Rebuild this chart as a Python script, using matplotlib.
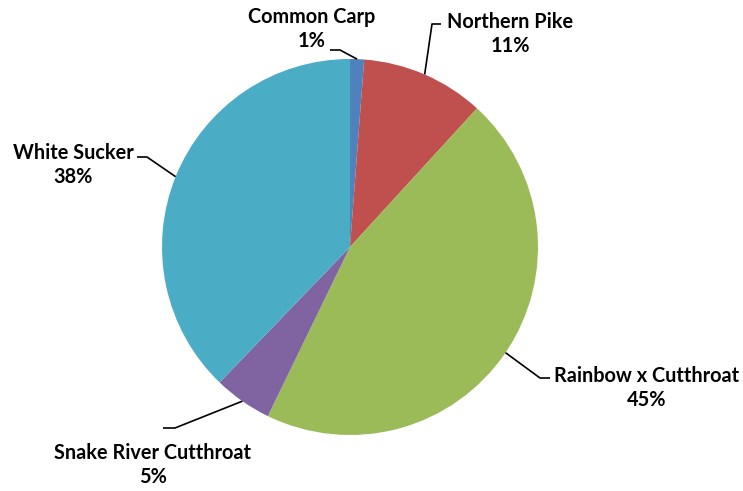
import numpy as np
import matplotlib
matplotlib.use("Agg")
import matplotlib.pyplot as plt

# data
species = ["Common Carp", "Northern Pike", "Rainbow x Cutthroat",
           "Snake River Cutthroat", "White Sucker"]
shares = [1.2, 10.6, 45.4, 5.0, 37.8]
colors = ["#4F81BD", "#C0504D", "#9BBB59", "#8064A2", "#4BACC6"]

# label layout (pixel offsets from pie centre, y up)
text_pos = [(-38, 218), (160, 213), (297, -141), (-197, -218), (-277, 82)]
elbow_pos = [(-10, 197), (82, 223), (190, -131), (-175, -181), (-203, 90)]
end_pos = [(-20, 197), (91, 223), (200, -131), (-187, -181), (-213, 90)]

W, H = 743, 491
CX, CY, R = 350, 247, 188

fig = plt.figure(figsize=(W / 100, H / 100), dpi=100)
ax = fig.add_axes([0, 0, 1, 1])

wedges, _ = ax.pie(shares, colors=colors, startangle=90, counterclock=False,
                   radius=R, center=(0, 0), frame=True,
                   wedgeprops=dict(linewidth=0))
ax.set_xlim(-CX, W - CX)
ax.set_ylim(-(H - CY), CY)
ax.set_aspect("equal")
ax.axis("off")

for w, name, pct, tp, ep, en in zip(wedges, species, shares, text_pos, elbow_pos, end_pos):
    mid = np.deg2rad((w.theta1 + w.theta2) / 2)
    ax_pt = (R * np.cos(mid), R * np.sin(mid))
    ax.plot([ax_pt[0], ep[0], en[0]], [ax_pt[1], ep[1], en[1]],
            color="black", linewidth=1.2, solid_capstyle="butt")
    ax.text(tp[0], tp[1], f"{name}\n{round(pct):.0f}%", ha="center", va="center",
            fontsize=14.3, fontweight="bold", family="Lato", linespacing=1.28)

fig.savefig("out.png", dpi=100)
